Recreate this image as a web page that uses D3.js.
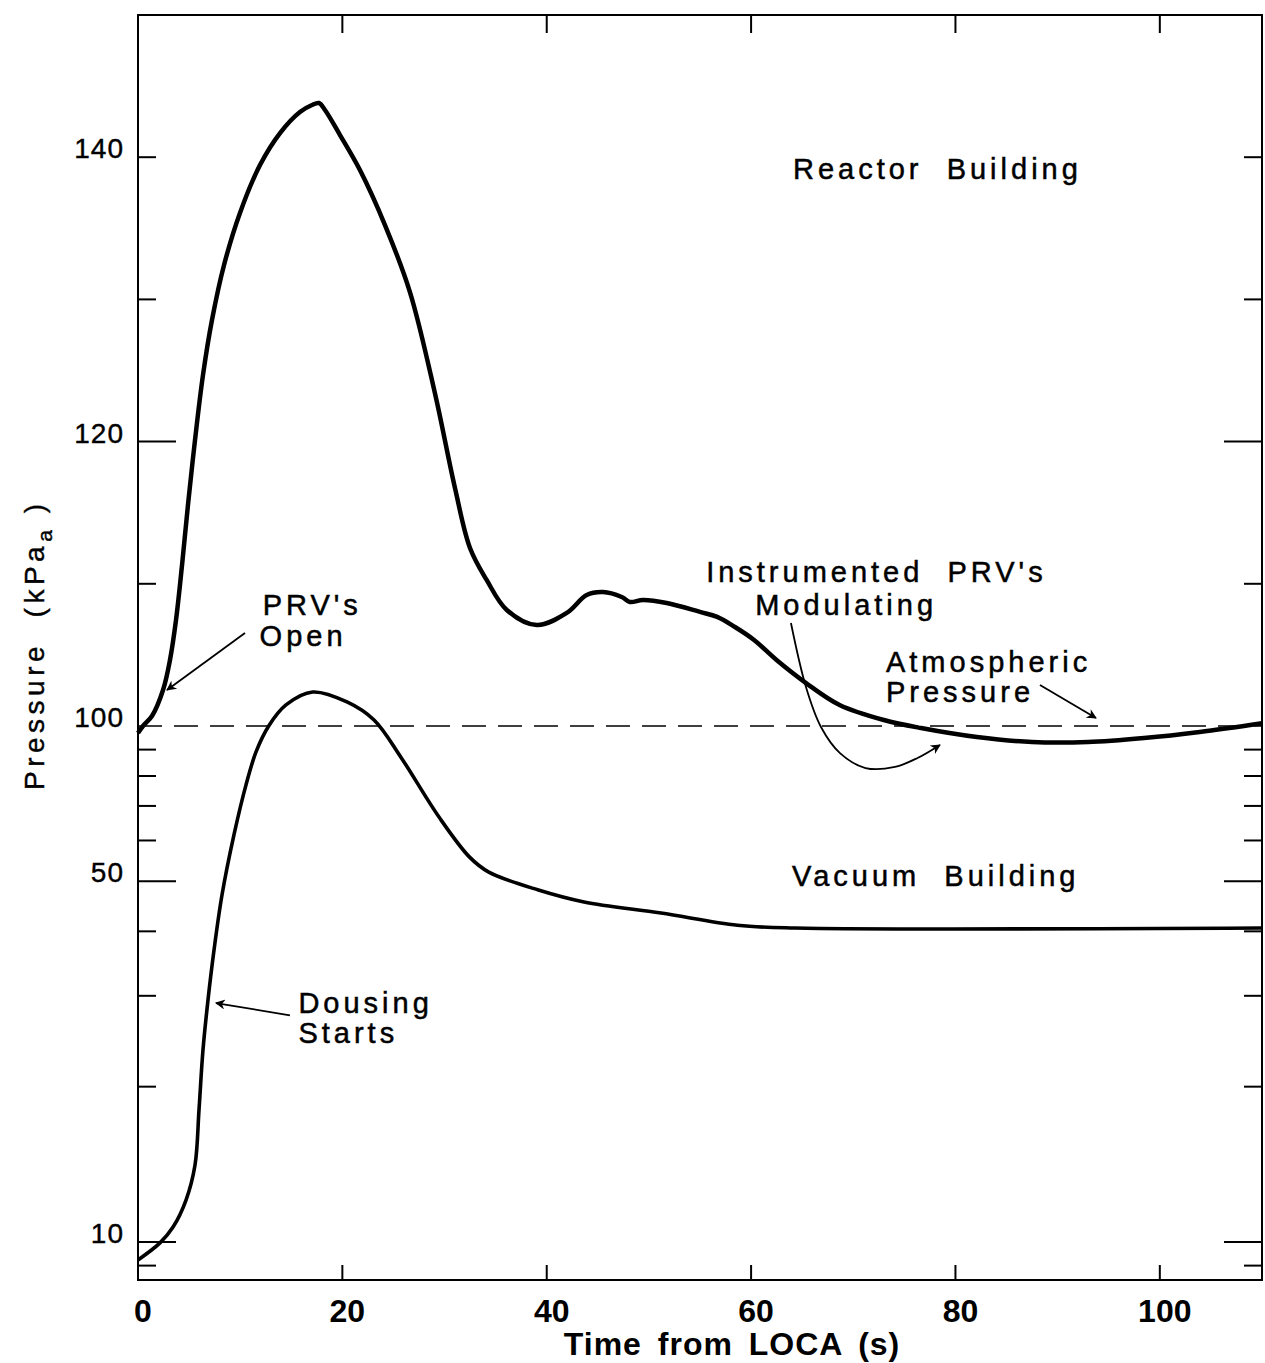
<!DOCTYPE html>
<html>
<head>
<meta charset="utf-8">
<script src="https://cdn.jsdelivr.net/npm/d3@7"></script>
<style>
  body { margin: 0; background: #fff; }
  text { font-family: "Liberation Sans", Arial, Helvetica, sans-serif; fill: #000; white-space: pre; }
</style>
</head>
<body>
<svg class="chart"></svg>
<script>
// DATA /////////////////////////////////////////
// time from LOCA (s) and pressure (kPa(a))
const reactorTime = [0, 0.49, 1.37, 2.45, 3.13, 3.72, 4.31, 4.89, 5.58, 6.36, 7.24, 8.42, 9.98, 11.94,
  13.9, 15.85, 17.03, 17.71, 18.3, 19.77, 21.72, 24.17, 26.62, 29.06, 31.02, 32.49, 34.12, 36.09, 39.02,
  41.96, 43.91, 45.51, 47.34, 48.15, 49.43, 51.74, 55.0, 56.68, 58.42, 60.29, 62.49, 65.38, 68.66, 73.0,
  76.63, 82.1, 87.5, 92.97, 98.45, 103.9, 110];
const reactorPressure = [96.9, 100, 100.7, 102.53, 104.64, 107.45, 111.32, 115.54, 120.11, 124.68,
  128.55, 132.42, 136.08, 139.45, 141.7, 143.18, 143.67, 143.81, 143.32, 141.56, 139.1, 135.23, 130.5,
  123.4, 116.74, 112.52, 110.27, 108.16, 107.1, 107.95, 109.21, 109.42, 109.07, 108.72, 108.86, 108.65,
  108.02, 107.67, 106.96, 106.05, 104.64, 103.02, 101.48, 100.42, 99.1, 95.2, 93.1, 93.1, 94.8, 97.4, 100.2];

const vacuumTime = [0, 2.15, 3.43, 4.7, 5.58, 5.97, 6.36, 6.85, 7.44, 8.22, 9.39, 10.57, 11.55, 12.79,
  14.48, 17.1, 20.45, 23.1, 25.71, 29.46, 32.45, 34.33, 39.19, 43.65, 51.18, 58.67, 64.3, 110];
const vacuumPressure = [9.23, 9.96, 10.69, 12.06, 14.1, 18.03, 23.56, 29.44, 36.8, 47.03, 61.5, 76.9,
  89.06, 100, 101.48, 102.39, 101.69, 100.42, 87.1, 66.6, 55.7, 52.1, 48.1, 45.6, 43.4, 41.1, 40.6, 40.6];

const atmospheric = 100;

const xTicks = [0, 20, 40, 60, 80, 100];
const yTicksUpper = [110, 120, 130, 140];
const yTicksLower = [9, 10, 20, 30, 40, 50, 60, 70, 80, 90];
const yLabelled = [10, 50, 100, 120, 140];
const yLongTicks = [10, 50, 120];

// annotations (time, pressure)
const labels = [
  { text: "Reactor  Building", t: 64.1, p: 138.5 },
  { text: "Instrumented  PRV's", t: 55.6, p: 110.1 },
  { text: "Modulating", t: 60.4, p: 107.8 },
  { text: "Atmospheric", t: 73.2, p: 103.8 },
  { text: "Pressure", t: 73.2, p: 101.7 },
  { text: "PRV's", t: 12.2, p: 107.8 },
  { text: "Open", t: 11.9, p: 105.6 },
  { text: "Vacuum  Building", t: 64.0, p: 48.9 },
  { text: "Dousing", t: 15.7, p: 27.8 },
  { text: "Starts", t: 15.7, p: 24.3 },
];
const arrows = [
  [[10.47, 106.54], [2.84, 102.53]],
  [[14.87, 27.5], [7.63, 29.05]],
  [[88.27, 102.88], [93.75, 100.56]],
  [[63.9, 107.24], [65.37, 102.74], [66.84, 99.55], [68.7, 88.6], [71.2, 82.9], [74.08, 83.3], [76.29, 86.7], [78.48, 91.9]],
];

// SCALES ///////////////////////////////////////
const W = 1265, H = 1363;
const margin = { left: 138, right: 1262, top: 15, bottom: 1280 };

const svg = d3.select(".chart").attr("width", W).attr("height", H);

const x = d3.scaleLinear().domain([0, 110]).range([margin.left, margin.right]);
// broken axis: linear above atmospheric, log below
const yLin = d3.scaleLinear().domain([100, 150]).range([726, margin.top]);
const yLog = d3.scaleLog().domain([10, 100]).range([1242, 726]);
const y = (p) => (p >= 100 ? yLin(p) : yLog(p));

// FRAME ////////////////////////////////////////
svg.append("rect")
  .attr("x", margin.left).attr("y", margin.top)
  .attr("width", margin.right - margin.left).attr("height", margin.bottom - margin.top)
  .attr("fill", "none").attr("stroke", "#000").attr("stroke-width", 2);

const allY = yTicksUpper.concat(yTicksLower);
const tickLen = (p) => (yLongTicks.includes(p) ? 38 : 18);

svg.selectAll(".ltick").data(allY).enter().append("line")
  .attr("x1", margin.left).attr("x2", (d) => margin.left + tickLen(d))
  .attr("y1", y).attr("y2", y)
  .attr("stroke", "#000").attr("stroke-width", 2);

svg.selectAll(".rtick").data(allY).enter().append("line")
  .attr("x1", margin.right).attr("x2", (d) => margin.right - tickLen(d))
  .attr("y1", y).attr("y2", y)
  .attr("stroke", "#000").attr("stroke-width", 2);

svg.selectAll(".btick").data(xTicks.slice(1)).enter().append("line")
  .attr("x1", x).attr("x2", x)
  .attr("y1", margin.bottom).attr("y2", margin.bottom - 15)
  .attr("stroke", "#000").attr("stroke-width", 2);

svg.selectAll(".ttick").data(xTicks.slice(1)).enter().append("line")
  .attr("x1", x).attr("x2", x)
  .attr("y1", margin.top).attr("y2", margin.top + 18)
  .attr("stroke", "#000").attr("stroke-width", 2);

svg.selectAll(".ylab").data(yLabelled).enter().append("text")
  .attr("x", 124).attr("y", (d) => y(d) + 1)
  .attr("text-anchor", "end")
  .style("font-size", "28px").style("letter-spacing", "1px")
  .attr("stroke", "#000").attr("stroke-width", 0.4)
  .text((d) => d);

svg.selectAll(".xlab").data(xTicks).enter().append("text")
  .attr("x", (d) => x(d) + 5).attr("y", 1322)
  .attr("text-anchor", "middle")
  .style("font-size", "32px").style("font-weight", "bold")
  .text((d) => d);

svg.append("text")
  .attr("x", 732).attr("y", 1355)
  .attr("text-anchor", "middle")
  .style("font-size", "32px").style("font-weight", "bold")
  .style("letter-spacing", "1px").style("word-spacing", "6px")
  .text("Time from LOCA (s)");

const yTitle = svg.append("text")
  .attr("transform", "translate(44, 790) rotate(-90)")
  .style("font-size", "28px").style("letter-spacing", "4.5px")
  .attr("stroke", "#000").attr("stroke-width", 0.4);
yTitle.append("tspan").text("Pressure  (kPa");
yTitle.append("tspan").attr("dy", 8).style("font-size", "21px").text("a");
yTitle.append("tspan").attr("dy", -8).text(" )");

// ATMOSPHERIC //////////////////////////////////
svg.append("line")
  .attr("x1", x(0)).attr("x2", x(110))
  .attr("y1", y(atmospheric)).attr("y2", y(atmospheric))
  .attr("stroke", "#000").attr("stroke-width", 1.6)
  .attr("stroke-dasharray", "24,12");

// CURVES ///////////////////////////////////////
const line = d3.line()
  .x((d) => x(d[0]))
  .y((d) => y(d[1]))
  .curve(d3.curveCatmullRom.alpha(0.5));

svg.append("path")
  .attr("d", line(d3.zip(reactorTime, reactorPressure)))
  .attr("fill", "none").attr("stroke", "#000").attr("stroke-width", 4.5)
  .attr("stroke-linejoin", "round");

svg.append("path")
  .attr("d", line(d3.zip(vacuumTime, vacuumPressure)))
  .attr("fill", "none").attr("stroke", "#000").attr("stroke-width", 3.6)
  .attr("stroke-linejoin", "round");

// ANNOTATIONS //////////////////////////////////
svg.append("defs").append("marker")
  .attr("id", "head")
  .attr("viewBox", "0 0 10 10")
  .attr("refX", 9).attr("refY", 5)
  .attr("markerWidth", 15).attr("markerHeight", 10)
  .attr("markerUnits", "userSpaceOnUse")
  .attr("orient", "auto")
  .append("path").attr("d", "M0,0 L10,5 L0,10 L3,5 Z").attr("fill", "#000");

svg.selectAll(".arrow").data(arrows).enter().append("path")
  .attr("d", (d) => line(d))
  .attr("fill", "none").attr("stroke", "#000").attr("stroke-width", 1.8)
  .attr("marker-end", "url(#head)");

svg.selectAll(".note").data(labels).enter().append("text")
  .attr("x", (d) => x(d.t)).attr("y", (d) => y(d.p))
  .style("font-size", "29px").style("letter-spacing", "4px")
  .attr("stroke", "#000").attr("stroke-width", 0.5)
  .text((d) => d.text);
</script>
</body>
</html>
